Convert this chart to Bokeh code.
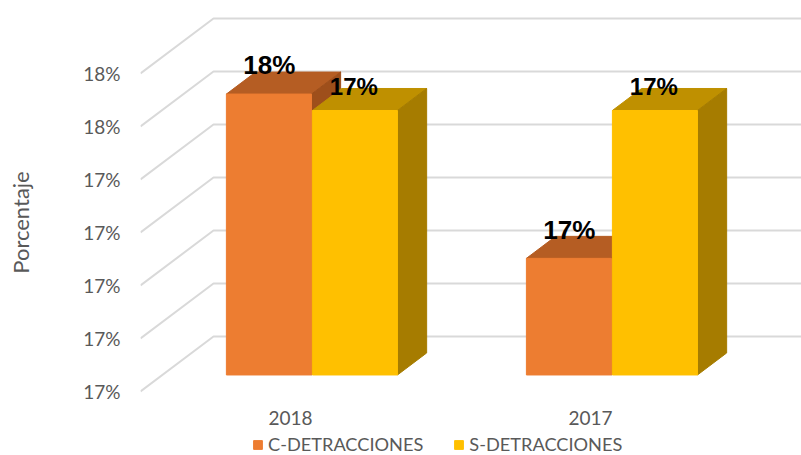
from math import pi
from bokeh.embed import file_html
from bokeh.resources import INLINE
from bokeh.plotting import figure
from bokeh.models import Range1d, Legend, LegendItem, FixedTicker, ColumnDataSource, Label
from bokeh.core.properties import value

years = ["2018", "2017"]
c_detracciones = [0.1753, 0.1722]
s_detracciones = [0.17499, 0.17499]
tick_values = [0.170, 0.171, 0.172, 0.173, 0.174, 0.175, 0.176]
tick_labels = ["17%", "17%", "17%", "17%", "17%", "18%", "18%"]

DX, DY = 0.2433, 0.001038   # shift in data units of one full depth of the 3D box
D0, D1 = 0.3, 0.7           # bars' front and back depth
BW = 0.2835
BASE = tick_values[0]
GRID = "#d9d9d9"
TXT = "#595959"
FONT = "Lato"

p = figure(width=801, height=455, output_backend="svg", toolbar_location=None,
           x_range=Range1d(0, 2.2033), y_range=Range1d(0.170 - 0.001208, 0.170 + 0.007226),
           min_border_left=140, min_border_right=0, min_border_top=8, min_border_bottom=0,
           outline_line_color=None)
p.grid.visible = False

# walls
xs, ys = [], []
for t in tick_values:
    xs.append([0, DX, 2.4])
    ys.append([t, t + DY, t + DY])
p.multi_line(xs, ys, line_color=GRID, line_width=2)


def series(values, x0, front, top, side, size, lx, ly):
    fx0 = [i + .5 + x0 + D0 * DX for i in range(len(values))]
    fx1 = [x + BW for x in fx0]
    b = BASE + D0 * DY
    tops = [v + D0 * DY for v in values]
    dx, dy = (D1 - D0) * DX, (D1 - D0) * DY
    p.patches([[a, a + dx, c + dx, c] for a, c in zip(fx0, fx1)],
              [[t, t + dy, t + dy, t] for t in tops], fill_color=top, line_color=top)
    p.patches([[c, c + dx, c + dx, c] for c in fx1],
              [[b, b + dy, t + dy, t] for t in tops], fill_color=side, line_color=side)
    r = p.quad(left=fx0, right=fx1, bottom=[b] * len(values), top=tops, fill_color=front, line_color=front)
    src = ColumnDataSource(dict(x=[a + lx for a in fx0], y=[t + ly for t in tops],
                                t=[f"{v:.0%}" for v in values]))
    return r, src, size


r_c, sc, zc = series(c_detracciones, -0.2867, "#ED7D31", "#B55D23", "#9E4F1B", 26, 0.143, 0.00054)
r_s, ss, zs = series(s_detracciones, 0, "#FFC000", "#BF9000", "#A67C00", 24, 0.138, 0.00045)

for src, z in ((sc, zc), (ss, zs)):
    p.text("x", "y", "t", source=src, text_font=value("Liberation Sans"), text_font_size=f"{z}px",
           text_font_style="bold", text_color="#000000", text_align="center", text_baseline="middle")

p.yaxis.ticker = FixedTicker(ticks=tick_values)
p.yaxis.major_label_overrides = dict(zip(tick_values, tick_labels))
p.yaxis.major_label_text_font = FONT
p.yaxis.major_label_text_font_size = "19px"
p.yaxis.major_label_text_color = TXT
p.yaxis.major_label_standoff = 14
p.yaxis.axis_line_color = None
p.yaxis.major_tick_line_color = None
p.yaxis.minor_tick_line_color = None

p.add_layout(Label(x=-33, y=233, x_units="screen", y_units="screen", text="Porcentaje", angle=pi / 2,
                   text_font=FONT, text_font_size="22px", text_color=TXT,
                   text_align="center", text_baseline="middle"), "left")

p.xaxis.fixed_location = 0.170 - 0.000264
p.xaxis.ticker = FixedTicker(ticks=[0.5, 1.5])
p.xaxis.major_label_overrides = {0.5: years[0], 1.5: years[1]}
p.xaxis.major_label_text_font = FONT
p.xaxis.major_label_text_font_size = "19px"
p.xaxis.major_label_text_color = TXT
p.xaxis.major_label_standoff = 0
p.xaxis.axis_line_color = None
p.xaxis.major_tick_line_color = None
p.xaxis.minor_tick_line_color = None

legend = Legend(items=[LegendItem(label="C-DETRACCIONES", renderers=[r_c]),
                       LegendItem(label="S-DETRACCIONES", renderers=[r_s])],
                orientation="horizontal", location=(112, 0), border_line_color=None,
                background_fill_alpha=0, label_text_font=FONT, label_text_font_size="18.2px",
                label_text_color=TXT, glyph_width=11, glyph_height=11, spacing=30,
                label_standoff=5, margin=0, padding=0)
p.add_layout(legend)

open("out.html", "w").write(file_html(p, INLINE))
